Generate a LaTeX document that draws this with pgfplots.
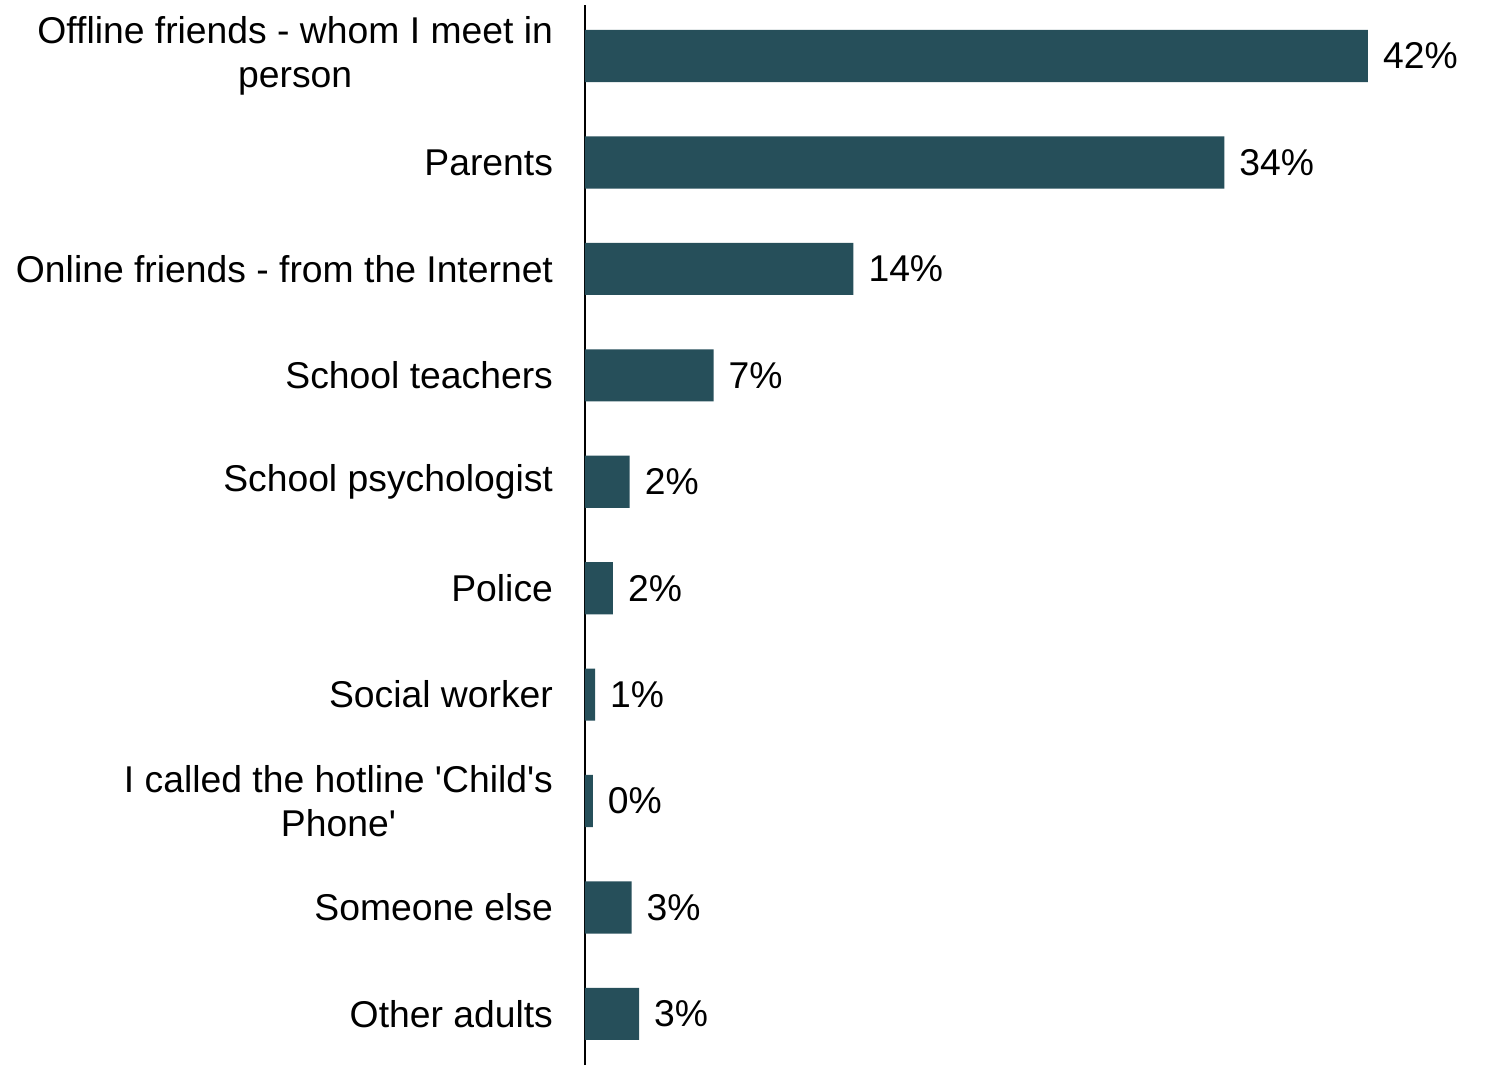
\documentclass[border=0pt]{standalone}
\usepackage{pgfplots}
\pgfplotsset{compat=1.18}
\usepackage{pgfplotstable}
\usepackage{fontspec}
\setmainfont{Liberation Sans}
\definecolor{barcol}{HTML}{264F5A}
\pgfplotstableread{
y val lab
9 42.0 42
8 34.3 34
7 14.4 14
6 6.9 7
5 2.4 2
4 1.5 2
3 0.54 1
2 0.42 0
1 2.5 3
0 2.9 3
}\datatable
\begin{document}
\begin{tikzpicture}[x=1pt,y=1pt]
\path[use as bounding box] (-292.5,0) rectangle (453,532.5);
\begin{axis}[
  at={(0,0)}, anchor=south west,
  scale only axis,
  width=453pt, height=530pt,
  xmin=0, xmax=48.6,
  ymin=-0.48, ymax=9.48,
  xbar, bar width=0.49,
  axis x line=none,
  axis y line*=left,
  y axis line style={-, line width=0.9pt, black},
  ytick={0,...,9},
  yticklabels={Other adults, Someone else, {I called the hotline \textquotesingle Child\textquotesingle s\\Phone\textquotesingle}, Social worker, Police, School psychologist, School teachers, Online friends - from the Internet, Parents, {Offline friends - whom I meet in\\person}},
  major tick length=0pt,
  yticklabel style={align=center, anchor=east, xshift=-12.5pt, font=\fontsize{18.65}{21.8}\selectfont},
  point meta=explicit symbolic,
  nodes near coords={\pgfplotspointmeta\%},
  nodes near coords style={anchor=west, xshift=4pt, font=\fontsize{18.65}{21.8}\selectfont, text=black},
]
\addplot[fill=barcol, draw=none] table[x=val, y=y, meta=lab] {\datatable};
\end{axis}
\end{tikzpicture}
\end{document}
